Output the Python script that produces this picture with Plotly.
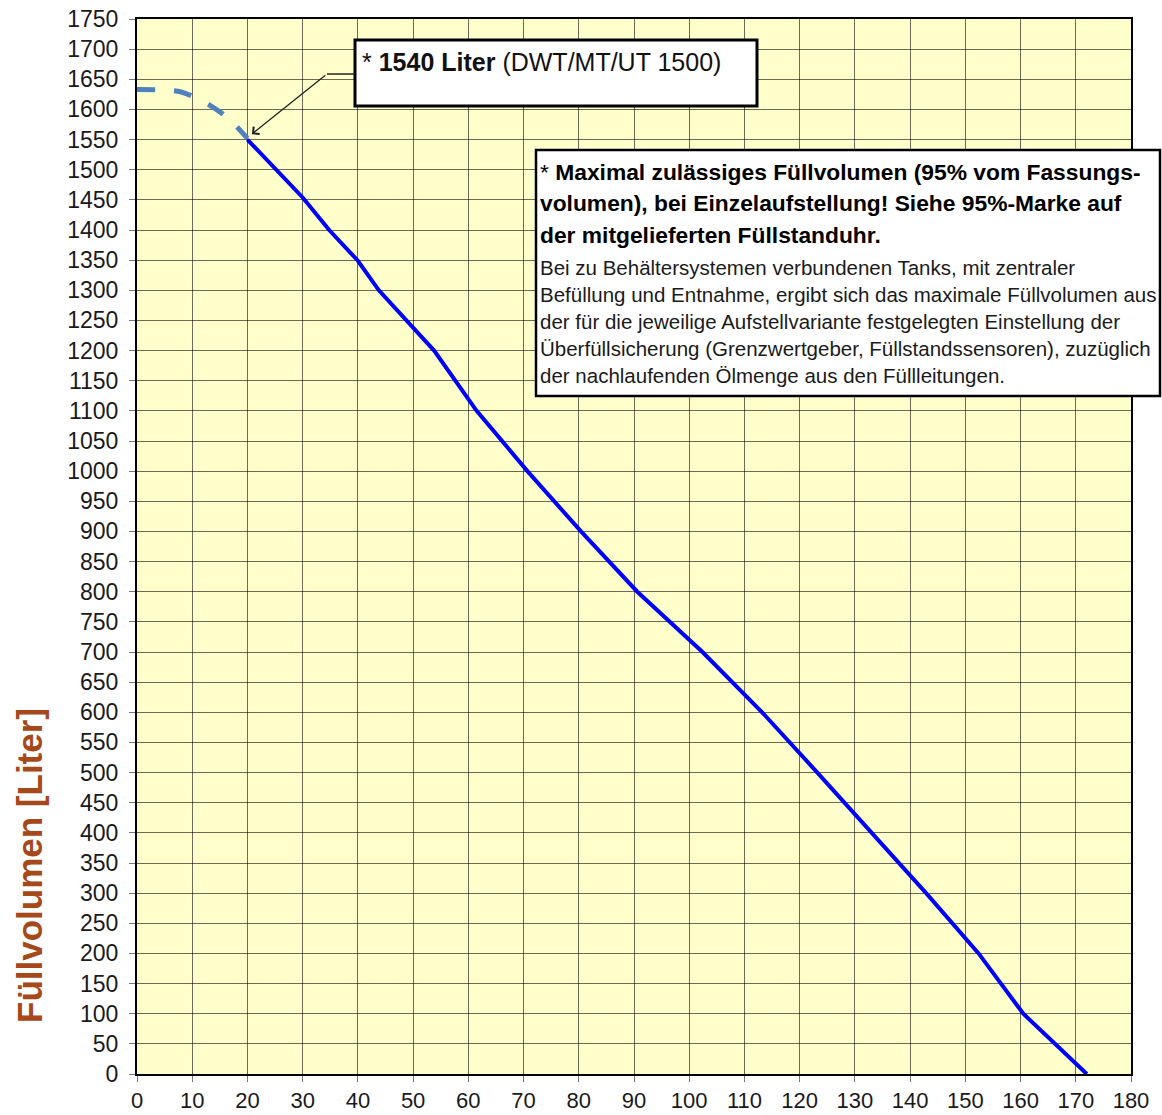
import plotly.graph_objects as go

# ---- data ----
level_cm = [20, 30, 34.8, 40, 43.8, 53.8, 61.5, 70.7, 80.4, 90.6, 102.4, 113.2, 123.2, 133,
            142.9, 152.4, 160.5, 172]
volume_l = [1550, 1454, 1400, 1349, 1300, 1200, 1100, 1000, 900, 800, 700, 600, 500, 400,
            300, 200, 100, 0]

top_cm = [0, 5, 8, 10, 13, 16, 18, 20]
top_vol = [1633, 1632, 1629, 1622, 1608, 1589, 1572, 1552]

x_ticks = list(range(0, 181, 10))
y_ticks = list(range(0, 1751, 50))

note_small = "* <b>1540 Liter</b> (DWT/MT/UT 1500)"
note_bold = ["* <b>Maximal zulässiges Füllvolumen (95% vom Fassungs-</b>",
             "<b>volumen), bei Einzelaufstellung! Siehe 95%-Marke auf</b>",
             "<b>der mitgelieferten Füllstanduhr.</b>"]
note_norm = ["Bei zu Behältersystemen verbundenen Tanks, mit zentraler",
             "Befüllung und Entnahme, ergibt sich das maximale Füllvolumen aus",
             "der für die jeweilige Aufstellvariante festgelegten Einstellung der",
             "Überfüllsicherung (Grenzwertgeber, Füllstandssensoren), zuzüglich",
             "der nachlaufenden Ölmenge aus den Füllleitungen."]

# ---- layout geometry ----
FW, FH = 1162, 1115
ML, MR, MT, MB = 137, 31, 19, 41
PW = FW - ML - MR
PH = FH - MT - MB


def px(x):
    return (x - ML) / PW


def py(y):
    return (FH - MB - y) / PH


FONT = "Liberation Sans, Arial, sans-serif"

fig = go.Figure()
fig.add_trace(go.Scatter(x=top_cm, y=top_vol, mode="lines",
                         line=dict(color="#4F81BD", width=5, dash="18px,19px", shape="spline"),
                         hoverinfo="skip", showlegend=False))
fig.add_trace(go.Scatter(x=level_cm, y=volume_l, mode="lines",
                         line=dict(color="#0000FF", width=4),
                         showlegend=False))

axis_common = dict(showline=True, linecolor="black", linewidth=2, mirror=True,
                   showgrid=True, gridcolor="rgba(0,0,0,0.58)", gridwidth=1,
                   ticks="outside", ticklen=6, tickcolor="#777", zeroline=False,
                   automargin=False)

fig.update_xaxes(range=[0, 180], tickvals=x_ticks, ticklabelstandoff=0,
                 tickfont=dict(family=FONT, size=22, color="#1a1a1a"), **axis_common)
fig.update_yaxes(range=[0, 1750], tickvals=y_ticks, ticklabelstandoff=6,
                 tickfont=dict(family=FONT, size=23, color="#1a1a1a"), **axis_common)

shapes = [
    dict(type="rect", xref="paper", yref="paper", x0=px(355), x1=px(757), y0=py(106), y1=py(40),
         line=dict(color="black", width=3), fillcolor="white", layer="above"),
    dict(type="line", xref="paper", yref="paper", x0=px(327), x1=px(355), y0=py(74), y1=py(74),
         line=dict(color="#222", width=1.5), layer="above"),
    dict(type="rect", xref="paper", yref="paper", x0=px(536), x1=px(1160), y0=py(396), y1=py(150),
         line=dict(color="black", width=2.5), fillcolor="white", layer="above"),
]

annotations = [
    dict(xref="x", yref="y", x=20.8, y=1559, text="", showarrow=True, ax=75, ay=-60,
         arrowhead=4, arrowsize=1.4, arrowwidth=1.3, arrowcolor="#222", standoff=0),
    dict(xref="paper", yref="paper", x=px(360), y=py(62), text=note_small, showarrow=False,
         xanchor="left", yanchor="middle", font=dict(family=FONT, size=25, color="#111")),
    dict(xref="paper", yref="paper", x=px(29), y=py(866), text="<b>Füllvolumen [Liter]</b>",
         textangle=-90, showarrow=False, xanchor="center", yanchor="middle",
         font=dict(family=FONT, size=35, color="#A5481A")),
]
for i, t in enumerate(note_bold):
    annotations.append(dict(xref="paper", yref="paper", x=px(538), y=py(172 + 31.5 * i), text=t,
                            showarrow=False, xanchor="left", yanchor="middle",
                            font=dict(family=FONT, size=22.8, color="#000")))
for i, t in enumerate(note_norm):
    annotations.append(dict(xref="paper", yref="paper", x=px(538), y=py(267 + 27.2 * i), text=t,
                            showarrow=False, xanchor="left", yanchor="middle",
                            font=dict(family=FONT, size=20.5, color="#1a1a1a")))

fig.update_layout(width=FW, height=FH, margin=dict(l=ML, r=MR, t=MT, b=MB, autoexpand=False),
                  paper_bgcolor="white", plot_bgcolor="#FFFFCC",
                  shapes=shapes, annotations=annotations, showlegend=False)

fig.write_html("out.html", config={"displayModeBar": False},
               post_script="document.body.style.margin='0px';")
